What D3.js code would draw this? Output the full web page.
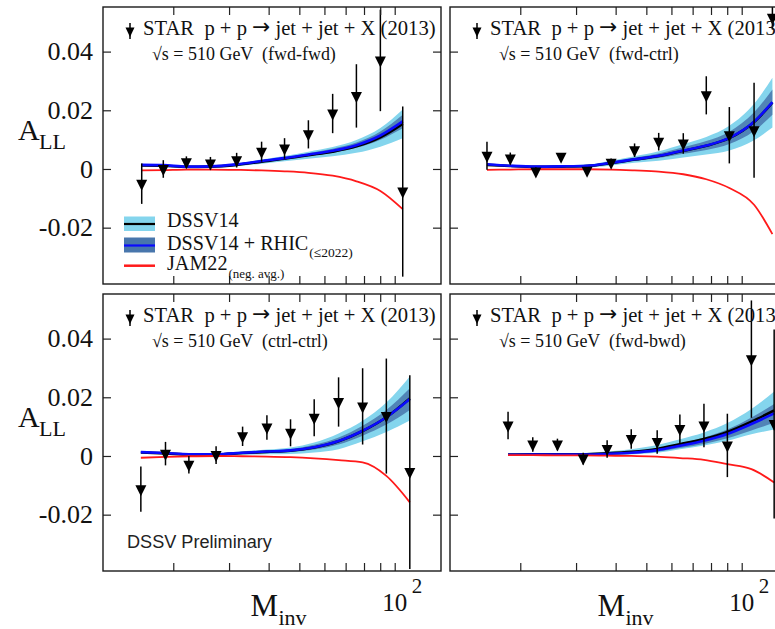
<!DOCTYPE html>
<html>
<head>
<meta charset="utf-8">
<script src="https://cdn.jsdelivr.net/npm/d3@7"></script>
<style>
  body { margin: 0; background: #fff; }
  svg { display: block; }
  text { white-space: pre; }
</style>
</head>
<body>
<svg id="chart" width="775" height="629"></svg>
<script>
// ---- Axis ticks ----
const yTicks = [-0.02, 0, 0.02, 0.04];
const yTickLabels = ["-0.02", "0", "0.02", "0.04"];
const xTicks = [20, 30, 40, 50, 60, 70, 80, 90, 100];

// ---- fwd-fwd ----
const mFF = [15.9, 18.6, 22.0, 26.2, 31.7, 38.0, 44.9, 53.4, 63.7, 75.7, 90.1, 106];
const allFF = [-0.0050, 0.0000, 0.0023, 0.0019, 0.0030, 0.0059, 0.0070, 0.0118, 0.0189, 0.0249, 0.0370, -0.0077];
const errFF = [0.0069, 0.0030, 0.0020, 0.0022, 0.0025, 0.0034, 0.0035, 0.0048, 0.0067, 0.0108, 0.0173, 0.0290];
const dssvFF = [0.0012, 0.0011, 0.0007, 0.0008, 0.0014, 0.0025, 0.0035, 0.0047, 0.0059, 0.0077, 0.0108, 0.0154];
const dssvErrFF = [0.0003, 0.0003, 0.0003, 0.0004, 0.0005, 0.0007, 0.0009, 0.0012, 0.0016, 0.0022, 0.0032, 0.0049];
const rhicFF = [0.0014, 0.0013, 0.0008, 0.0009, 0.0016, 0.0027, 0.0037, 0.0049, 0.0062, 0.0081, 0.0114, 0.0162];
const rhicErrFF = [0.0002, 0.0002, 0.0002, 0.0002, 0.0002, 0.0003, 0.0004, 0.0005, 0.0007, 0.0009, 0.0014, 0.0023];
const jamFF = [-0.0005, -0.0004, -0.0002, -0.0002, -0.0003, -0.0005, -0.0008, -0.0013, -0.0023, -0.0042, -0.0075, -0.0137];

// ---- fwd-ctrl ----
const mFC = [15.7, 18.6, 22.4, 26.9, 32.5, 38.7, 45.9, 54.7, 65.4, 77.3, 91.4, 109.4, 125.0];
const allFC = [0.0045, 0.0036, -0.0009, 0.0042, -0.0006, 0.0021, 0.0064, 0.0093, 0.0087, 0.0251, 0.0115, 0.0132, 0.0515];
const errFC = [0.0048, 0.0020, 0.0015, 0.0010, 0.0012, 0.0015, 0.0023, 0.0030, 0.0035, 0.0065, 0.0096, 0.0162, 0.0040];
const dssvFC = [0.0014, 0.0010, 0.0007, 0.0008, 0.0010, 0.0020, 0.0032, 0.0044, 0.0062, 0.0079, 0.0105, 0.0160, 0.0226];
const dssvErrFC = [0.0003, 0.0003, 0.0003, 0.0004, 0.0005, 0.0008, 0.0011, 0.0016, 0.0023, 0.0030, 0.0042, 0.0062, 0.0085];
const rhicFC = [0.0016, 0.0011, 0.0008, 0.0009, 0.0011, 0.0021, 0.0033, 0.0045, 0.0063, 0.0080, 0.0106, 0.0161, 0.0228];
const rhicErrFC = [0.0002, 0.0002, 0.0002, 0.0002, 0.0003, 0.0004, 0.0006, 0.0008, 0.0011, 0.0015, 0.0021, 0.0032, 0.0043];
const jamFC = [-0.0003, -0.0002, -0.0001, -0.0001, -0.0001, -0.0002, -0.0005, -0.0009, -0.0018, -0.0035, -0.0065, -0.0122, -0.0222];

// ---- ctrl-ctrl ----
const mCC = [15.8, 18.9, 22.4, 27.3, 33.1, 39.5, 46.9, 55.7, 66.5, 79.2, 94.1, 111.6];
const allCC = [-0.0113, 0.0008, -0.0030, 0.0003, 0.0067, 0.0097, 0.0079, 0.0130, 0.0184, 0.0169, 0.0136, -0.0055];
const errCC = [0.0077, 0.0040, 0.0030, 0.0030, 0.0033, 0.0042, 0.0046, 0.0063, 0.0084, 0.0130, 0.0196, 0.0330];
const dssvCC = [0.0012, 0.0009, 0.0005, 0.0005, 0.0010, 0.0014, 0.0018, 0.0029, 0.0050, 0.0085, 0.0132, 0.0196];
const dssvErrCC = [0.0003, 0.0003, 0.0003, 0.0004, 0.0006, 0.0008, 0.0011, 0.0017, 0.0027, 0.0035, 0.0050, 0.0075];
const rhicCC = [0.0013, 0.0010, 0.0006, 0.0006, 0.0011, 0.0015, 0.0019, 0.0030, 0.0051, 0.0086, 0.0132, 0.0194];
const rhicErrCC = [0.0002, 0.0002, 0.0002, 0.0002, 0.0003, 0.0004, 0.0005, 0.0008, 0.0012, 0.0017, 0.0025, 0.0037];
const jamCC = [-0.0006, -0.0003, -0.0001, 0.0000, -0.0001, -0.0002, -0.0004, -0.0008, -0.0014, -0.0022, -0.0068, -0.0158];

// ---- fwd-bwd ----
const mFB = [18.3, 21.9, 26.2, 31.6, 37.6, 44.8, 54.1, 63.8, 76.0, 90.1, 107.3, 126.6];
const allFB = [0.0104, 0.0039, 0.0039, -0.0009, 0.0024, 0.0058, 0.0048, 0.0092, 0.0104, 0.0036, 0.0330, 0.0109];
const errFB = [0.0047, 0.0025, 0.0020, 0.0020, 0.0030, 0.0033, 0.0040, 0.0049, 0.0074, 0.0108, 0.0200, 0.0322];
const dssvFB = [0.0005, 0.0006, 0.0006, 0.0006, 0.0009, 0.0014, 0.0024, 0.0040, 0.0058, 0.0082, 0.0117, 0.0155];
const dssvErrFB = [0.0002, 0.0002, 0.0003, 0.0004, 0.0006, 0.0009, 0.0013, 0.0017, 0.0022, 0.0030, 0.0043, 0.0065];
const rhicFB = [0.0004, 0.0005, 0.0005, 0.0005, 0.0007, 0.0011, 0.0020, 0.0035, 0.0052, 0.0075, 0.0109, 0.0145];
const rhicErrFB = [0.0001, 0.0001, 0.0002, 0.0002, 0.0003, 0.0004, 0.0006, 0.0008, 0.0011, 0.0015, 0.0022, 0.0032];
const jamFB = [0.0003, 0.0003, 0.0002, 0.0002, 0.0001, 0.0000, -0.0002, -0.0007, -0.0013, -0.0028, -0.0045, -0.0090];

// ---- Styling ----
const serif = "'Liberation Serif', 'Times New Roman', serif";
const sans = "'Liberation Sans', Arial, sans-serif";
const lightBlue = "#84d5ed";
const darkBlue = "#4876ac";
const lineBlue = "#0a0aff";
const lineRed = "#ff1a1a";
const ink = "#111";

const frameW = 338, frameH = 277;
const x = d3.scaleLog().domain([12, 140]).range([0, frameW]);
const y = d3.scaleLinear().domain([-0.0392, 0.0552]).range([frameH, 0]);

const panels = [
  { tag: "fwd-fwd",   ox: 103, oy: 7,   left: true,  bottom: false, legend: true,
    m: mFF, a: allFF, e: errFF, dssv: dssvFF, dssvErr: dssvErrFF, rhic: rhicFF, rhicErr: rhicErrFF, jam: jamFF },
  { tag: "fwd-ctrl",  ox: 450, oy: 7,   left: false, bottom: false,
    m: mFC, a: allFC, e: errFC, dssv: dssvFC, dssvErr: dssvErrFC, rhic: rhicFC, rhicErr: rhicErrFC, jam: jamFC },
  { tag: "ctrl-ctrl", ox: 103, oy: 294, left: true,  bottom: true, prelim: true,
    m: mCC, a: allCC, e: errCC, dssv: dssvCC, dssvErr: dssvErrCC, rhic: rhicCC, rhicErr: rhicErrCC, jam: jamCC },
  { tag: "fwd-bwd",   ox: 450, oy: 294, left: false, bottom: true,
    m: mFB, a: allFB, e: errFB, dssv: dssvFB, dssvErr: dssvErrFB, rhic: rhicFB, rhicErr: rhicErrFB, jam: jamFB }
];

const svg = d3.select("#chart");
svg.append("rect").attr("width", 775).attr("height", 629).attr("fill", "#fff");
const defs = svg.append("defs");

// Downward filled triangle, centred on its centroid
function triangle(cx, cy, hw, up, down) {
  return `M${cx - hw},${cy - up}L${cx + hw},${cy - up}L${cx},${cy + down}Z`;
}

// Scale a text's font size so that it spans the given width
function fitWidth(sel, width) {
  const size = +sel.attr("font-size");
  const w = sel.node().getComputedTextLength();
  if (w > 0) sel.attr("font-size", (size * width / w).toFixed(2));
  return sel;
}

panels.forEach((p, i) => {
  const g = svg.append("g").attr("transform", `translate(${p.ox},${p.oy})`);

  defs.append("clipPath").attr("id", "clip" + i)
    .append("rect").attr("width", frameW).attr("height", frameH);

  const plot = g.append("g").attr("clip-path", `url(#clip${i})`);

  const rows = p.m.map((m, k) => ({
    m, d: p.dssv[k], de: p.dssvErr[k], r: p.rhic[k], re: p.rhicErr[k], j: p.jam[k]
  }));

  const bandD = d3.area().curve(d3.curveMonotoneX)
    .x(d => x(d.m)).y0(d => y(d.d - d.de)).y1(d => y(d.d + d.de));
  const bandR = d3.area().curve(d3.curveMonotoneX)
    .x(d => x(d.m)).y0(d => y(d.r - d.re)).y1(d => y(d.r + d.re));
  const lineOf = key => d3.line().curve(d3.curveMonotoneX).x(d => x(d.m)).y(d => y(d[key]));

  plot.append("path").datum(rows).attr("d", bandD).attr("fill", lightBlue);
  plot.append("path").datum(rows).attr("d", bandR).attr("fill", darkBlue).attr("opacity", 0.85);
  plot.append("path").datum(rows).attr("d", lineOf("d"))
    .attr("fill", "none").attr("stroke", "#000").attr("stroke-width", 2.6);
  plot.append("path").datum(rows).attr("d", lineOf("r"))
    .attr("fill", "none").attr("stroke", lineBlue).attr("stroke-width", 2.6);
  plot.append("path").datum(rows).attr("d", lineOf("j"))
    .attr("fill", "none").attr("stroke", lineRed).attr("stroke-width", 1.8);

  // STAR data: error bars and markers
  const pts = p.m.map((m, k) => ({ m, a: p.a[k], e: p.e[k] }));
  plot.selectAll("line.err").data(pts).join("line")
    .attr("class", "err")
    .attr("x1", d => x(d.m)).attr("x2", d => x(d.m))
    .attr("y1", d => y(d.a - d.e)).attr("y2", d => y(d.a + d.e))
    .attr("stroke", "#000").attr("stroke-width", 1.5);
  plot.selectAll("path.mk").data(pts).join("path")
    .attr("class", "mk")
    .attr("d", d => triangle(x(d.m), y(d.a), 5.5, 4, 7))
    .attr("fill", "#000");

  // Axes with inward ticks on all four sides
  const styleAxis = sel => {
    sel.select(".domain").remove();
    sel.selectAll(".tick line").attr("stroke", "#222").attr("stroke-width", 1.2);
  };
  g.append("g")
    .call(d3.axisLeft(y).tickValues(yTicks).tickSize(-8).tickPadding(10)
      .tickFormat(v => p.left ? yTickLabels[yTicks.indexOf(v)] : ""))
    .call(styleAxis)
    .call(s => s.selectAll("text").attr("font-family", serif).attr("font-size", 26)
      .attr("fill", ink));
  g.append("g").attr("transform", `translate(${frameW},0)`)
    .call(d3.axisRight(y).tickValues(yTicks).tickSize(-8).tickFormat(() => ""))
    .call(styleAxis);
  g.append("g").attr("transform", `translate(0,${frameH})`)
    .call(d3.axisBottom(x).tickValues(xTicks).tickSize(-8).tickFormat(() => ""))
    .call(styleAxis);
  g.append("g")
    .call(d3.axisTop(x).tickValues(xTicks).tickSize(-8).tickFormat(() => ""))
    .call(styleAxis);

  g.append("rect").attr("width", frameW).attr("height", frameH)
    .attr("fill", "none").attr("stroke", "#1a1a1a").attr("stroke-width", 1.4);

  // Panel header
  g.append("line").attr("x1", 27).attr("x2", 27).attr("y1", 16).attr("y2", 32)
    .attr("stroke", "#000").attr("stroke-width", 1.5);
  g.append("path").attr("d", triangle(27, 24, 4.5, 3.5, 6)).attr("fill", "#000");
  const head = g.append("text").attr("x", 40).attr("y", 28)
    .attr("font-family", serif).attr("font-size", 20).attr("fill", ink);
  head.append("tspan").text("STAR  p + p ");
  head.append("tspan").attr("font-family", "'DejaVu Sans', sans-serif")
    .attr("font-size", "1.05em").attr("dy", -1).text("\u2192");
  head.append("tspan").attr("dy", 1).text(" jet + jet + X (2013)");
  fitWidth(head, 292.7);
  const sub = g.append("text").attr("x", 49).attr("y", 53)
    .attr("font-family", serif).attr("font-size", 19).attr("fill", ink)
    .text(`\u221As = 510 GeV  (${p.tag})`);
  if (p.tag === "fwd-fwd") fitWidth(sub, 184);
  else sub.attr("font-size", svg.select("text.sub0").attr("font-size"));
  if (p.tag === "fwd-fwd") sub.classed("sub0", true);

  if (p.left) {
    g.append("text").attr("x", 18 - p.ox).attr("y", 133)
      .attr("font-family", serif).attr("font-size", 30).attr("fill", ink).text("A");
    g.append("text").attr("x", 39 - p.ox).attr("y", 142)
      .attr("font-family", serif).attr("font-size", 22).attr("fill", ink).text("LL");
  }

  if (p.bottom) {
    const x100 = x(100);
    g.append("text").attr("x", x100).attr("y", frameH + 40).attr("text-anchor", "middle")
      .attr("font-family", serif).attr("font-size", 25).attr("fill", ink).text("10");
    g.append("text").attr("x", x100 + 17).attr("y", frameH + 22)
      .attr("font-family", serif).attr("font-size", 21).attr("fill", ink).text("2");
    g.append("text").attr("x", 147.5).attr("y", frameH + 45)
      .attr("font-family", serif).attr("font-size", 31).attr("fill", ink).text("M");
    g.append("text").attr("x", 175.5).attr("y", frameH + 53.5)
      .attr("font-family", serif).attr("font-size", 22).attr("fill", ink).text("inv");
  }

  if (p.prelim) {
    const pr = g.append("text").attr("x", 24).attr("y", 254)
      .attr("font-family", sans).attr("font-size", 16.5).attr("fill", "#222")
      .text("DSSV Preliminary");
    fitWidth(pr, 145);
  }

  if (p.legend) {
    const lg = g.append("g").attr("transform", "translate(21,0)");
    lg.append("rect").attr("x", 0).attr("y", 209.5).attr("width", 31).attr("height", 14.5).attr("fill", lightBlue);
    lg.append("line").attr("x1", 0).attr("x2", 31).attr("y1", 217).attr("y2", 217)
      .attr("stroke", "#000").attr("stroke-width", 2.2);
    lg.append("rect").attr("x", 0).attr("y", 230.5).attr("width", 31).attr("height", 15).attr("fill", darkBlue);
    lg.append("line").attr("x1", 0).attr("x2", 31).attr("y1", 238.5).attr("y2", 238.5)
      .attr("stroke", lineBlue).attr("stroke-width", 2.2);
    lg.append("line").attr("x1", 0).attr("x2", 31).attr("y1", 258.7).attr("y2", 258.7)
      .attr("stroke", lineRed).attr("stroke-width", 2.5);

    const txt = (tx, ty, size, s) => lg.append("text").attr("x", tx).attr("y", ty)
      .attr("font-family", serif).attr("font-size", size).attr("fill", ink).text(s);
    const t1 = txt(43, 220, 20, "DSSV14");
    fitWidth(t1, 71.7);
    const fs = +t1.attr("font-size");
    const t2 = txt(43, 243, fs, "DSSV14 + RHIC");
    txt(43 + t2.node().getComputedTextLength() + 1, 250, 13.5, "(\u22642022)");
    const t3 = txt(43, 262.5, fs, "JAM22");
    txt(43 + t3.node().getComputedTextLength() + 1, 270.5, 13, "(neg. avg.)");
  }
});
</script>
</body>
</html>
